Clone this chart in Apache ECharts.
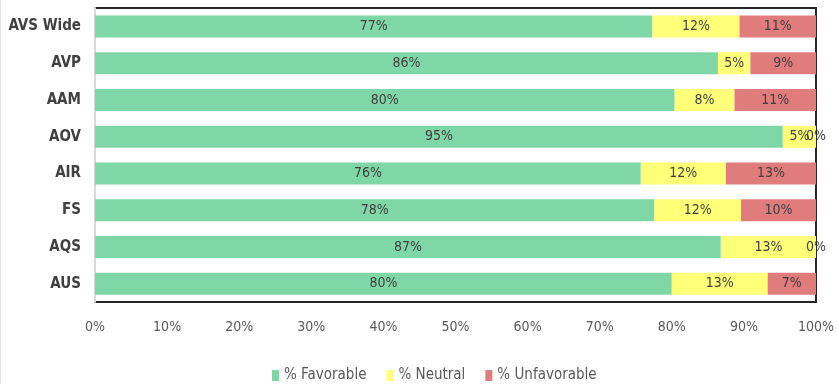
<!DOCTYPE html>
<html>
<head>
<meta charset="utf-8">
<script src="https://cdn.jsdelivr.net/npm/echarts@6/dist/echarts.min.js"></script>
<style>
  html, body { margin: 0; padding: 0; background: #fff; }
  #chart { width: 837px; height: 384px; border-left: 1px solid #e0e0e0; box-sizing: border-box; }
</style>
</head>
<body>
<div id="chart"></div>
<script>
// Survey groups, top to bottom
const categories = ['AVS Wide', 'AVP', 'AAM', 'AOV', 'AIR', 'FS', 'AQS', 'AUS'];
// Share of responses per group (percent)
const favorable   = [77.3, 86.4, 80.4, 95.4, 75.7, 77.6, 86.8, 80.0];
const neutral     = [12.1,  4.5,  8.3,  4.6, 11.8, 12.0, 13.2, 13.3];
const unfavorable = [10.6,  9.1, 11.3,  0.0, 12.5, 10.4,  0.0,  6.7];
const seriesNames = ['% Favorable', '% Neutral', '% Unfavorable'];
const colors = ['#7fd6a7', '#ffff78', '#e07c7c'];

const font = '"Liberation Sans Narrow", "DejaVu Sans Condensed", "Open Sans", sans-serif';

const chart = echarts.init(document.getElementById('chart'), null, { renderer: 'canvas' });

function makeSeries(name, data, color) {
  return {
    name: name,
    type: 'bar',
    stack: 'total',
    barWidth: 22,
    data: data,
    itemStyle: { color: color },
    label: {
      show: true,
      position: 'inside',
      color: '#404040',
      fontFamily: font,
      fontSize: 14,
      formatter: p => Math.round(p.value) + '%'
    },
    emphasis: { disabled: true }
  };
}

chart.setOption({
  animation: false,
  grid: {
    left: 94, right: 19, top: 8, bottom: 82,
    show: true,
    borderColor: '#262626',
    borderWidth: 2,
    backgroundColor: 'transparent'
  },
  legend: {
    top: 363,
    left: 266,
    itemWidth: 7,
    itemHeight: 11,
    itemGap: 20,
    icon: 'rect',
    textStyle: { color: '#595959', fontFamily: font, fontSize: 15 },
    data: seriesNames
  },
  xAxis: {
    type: 'value',
    min: 0,
    max: 100,
    interval: 10,
    axisLine: { show: false },
    axisTick: { show: false },
    splitLine: { show: false },
    axisLabel: {
      color: '#595959',
      fontFamily: font,
      fontSize: 14,
      margin: 18,
      formatter: v => v + '%'
    }
  },
  yAxis: {
    type: 'category',
    inverse: true,
    data: categories,
    axisLine: { show: true, lineStyle: { color: '#d9d9d9', width: 2 } },
    axisTick: { show: false },
    axisLabel: {
      color: '#404040',
      fontFamily: font,
      fontWeight: 'bold',
      fontSize: 15,
      margin: 14
    }
  },
  series: [
    makeSeries(seriesNames[0], favorable, colors[0]),
    makeSeries(seriesNames[1], neutral, colors[1]),
    makeSeries(seriesNames[2], unfavorable, colors[2])
  ]
});
</script>
</body>
</html>
